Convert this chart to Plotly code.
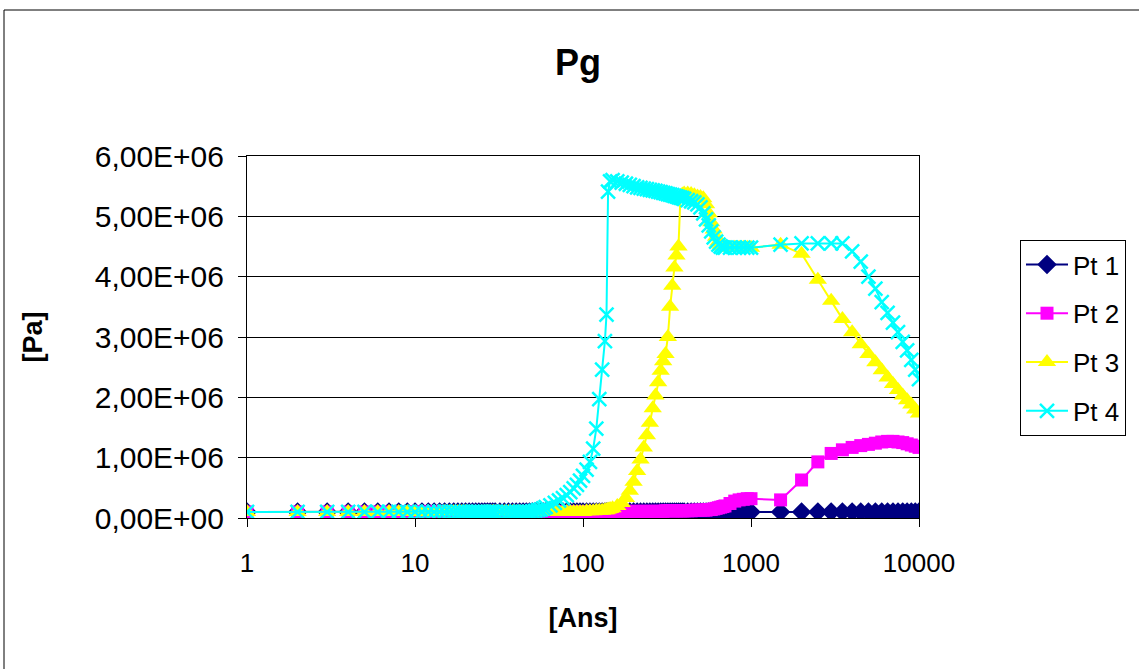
import plotly.graph_objects as go

# Time grid (years)
T = [1, 2, 3, 4, 5, 6, 7, 8, 9, 10,
     11, 12, 13, 14, 15, 16, 17, 18, 19, 20,
     21, 22, 23, 24, 25, 26, 27, 28, 29, 30,
     32, 34, 36, 38, 40, 42, 44, 46, 48, 50,
     52, 54, 56, 58, 60,
     64, 68, 72, 76, 80, 84, 88, 92, 96, 100,
     105, 110, 115, 120, 125, 130, 135,
     138, 141, 145, 150,
     160, 170, 180, 190, 200, 210, 220, 230, 240, 250,
     260, 270, 280, 290, 300, 310, 320, 330, 340, 350,
     360, 370, 380, 390, 400,
     420, 440, 460, 480, 500, 520, 540, 560, 580, 600,
     620, 640, 660, 680, 700,
     750, 800, 850, 900, 950, 1000,
     1500, 2000, 2500, 3000, 3500, 4000, 4500, 5000, 5500, 6000,
     6500, 7000, 7500, 8000, 8500, 9000, 9500, 10000]

PT1 = [1e5, 1e5, 1e5, 1e5, 1e5, 1e5, 1e5, 1e5, 1e5, 1e5,
       1e5, 1e5, 1e5, 1e5, 1e5, 1e5, 1e5, 1e5, 1e5, 1e5,
       1e5, 1e5, 1e5, 1e5, 1e5, 1e5, 1e5, 1e5, 1e5, 1e5,
       1e5, 1e5, 1e5, 1e5, 1e5, 1e5, 1e5, 1e5, 1e5, 1e5,
       1e5, 1e5, 1e5, 1e5, 1e5,
       1e5, 1e5, 1e5, 1e5, 1e5, 1e5, 1e5, 1e5, 1e5, 1e5,
       1e5, 1e5, 1e5, 1e5, 1e5, 1e5, 1e5,
       1e5, 1e5, 1e5, 1e5,
       1e5, 1e5, 1e5, 1e5, 1e5, 1e5, 1e5, 1e5, 1e5, 1e5,
       1e5, 1e5, 1e5, 1e5, 1e5, 1e5, 1e5, 1e5, 1e5, 1e5,
       1e5, 1e5, 1e5, 1e5, 1e5,
       1e5, 1e5, 1e5, 1e5, 1e5, 1e5, 1e5, 1e5, 1e5, 1e5,
       1e5, 1e5, 1e5, 1e5, 1e5,
       1e5, 1e5, 1e5, 1e5, 1e5, 1e5,
       1e5, 1e5, 1e5, 1e5, 1e5, 1e5, 1e5, 1e5, 1e5, 1e5,
       1e5, 1e5, 1e5, 1e5, 1e5, 1e5, 1e5, 1e5]

PT2 = [1e5, 1e5, 1e5, 1e5, 1e5, 1e5, 1e5, 1e5, 1e5, 1e5,
       1e5, 1e5, 1e5, 1e5, 1e5, 1e5, 1e5, 1e5, 1e5, 1e5,
       1e5, 1e5, 1e5, 1e5, 1e5, 1e5, 1e5, 1e5, 1e5, 1e5,
       1e5, 1e5, 1e5, 1e5, 1e5, 1e5, 1e5, 1e5, 1e5, 1e5,
       1e5, 1e5, 1e5, 1e5, 1e5,
       1e5, 1e5, 1e5, 1e5, 1e5, 1e5, 1e5, 1e5, 1e5, 1e5,
       1e5, 1e5, 1e5, 1e5, 1e5, 1e5, 1e5,
       1e5, 1e5, 1e5, 1e5,
       1.1e5, 1.1e5, 1.1e5, 1.1e5, 1.1e5, 1.1e5, 1.1e5, 1.1e5, 1.1e5, 1.1e5,
       1.1e5, 1.1e5, 1.1e5, 1.1e5, 1.1e5, 1.2e5, 1.2e5, 1.2e5, 1.2e5, 1.2e5,
       1.2e5, 1.2e5, 1.2e5, 1.2e5, 1.2e5,
       1.2e5, 1.2e5, 1.3e5, 1.3e5, 1.3e5, 1.3e5, 1.3e5, 1.4e5, 1.4e5, 1.5e5,
       1.6e5, 1.7e5, 1.8e5, 1.9e5, 2.0e5,
       2.4e5, 2.8e5, 3.0e5, 3.1e5, 3.2e5, 3.2e5,
       3.0e5, 6.3e5, 9.3e5, 1.07e6, 1.13e6, 1.17e6, 1.2e6, 1.22e6, 1.24e6, 1.26e6,
       1.27e6, 1.27e6, 1.26e6, 1.25e6, 1.23e6, 1.21e6, 1.19e6, 1.17e6]

PT3 = [1e5, 1e5, 1e5, 1e5, 1e5, 1e5, 1e5, 1e5, 1e5, 1e5,
       1e5, 1e5, 1e5, 1e5, 1e5, 1e5, 1e5, 1e5, 1e5, 1e5,
       1e5, 1e5, 1e5, 1e5, 1e5, 1e5, 1e5, 1e5, 1e5, 1e5,
       1e5, 1e5, 1e5, 1e5, 1e5, 1e5, 1e5, 1e5, 1e5, 1e5,
       1e5, 1e5, 1e5, 1e5, 1e5,
       1e5, 1e5, 1e5, 1e5, 1e5, 1e5, 1e5, 1e5, 1e5, 1e5,
       1.1e5, 1.1e5, 1.1e5, 1.2e5, 1.2e5, 1.2e5, 1.3e5,
       1.3e5, 1.4e5, 1.5e5, 1.6e5,
       2.0e5, 2.5e5, 3.3e5, 4.5e5, 6.0e5, 7.8e5, 9.7e5, 1.17e6, 1.37e6, 1.58e6,
       1.82e6, 2.03e6, 2.25e6, 2.44e6, 2.6e6, 2.72e6, 3.0e6, 3.5e6, 3.85e6, 4.15e6,
       4.35e6, 4.5e6, 5.3e6, 5.36e6, 5.38e6,
       5.38e6, 5.37e6, 5.35e6, 5.33e6, 5.32e6, 5.3e6, 5.2e6, 5.05e6, 4.9e6, 4.78e6,
       4.66e6, 4.58e6, 4.53e6, 4.5e6, 4.5e6,
       4.48e6, 4.48e6, 4.48e6, 4.48e6, 4.48e6, 4.48e6,
       4.53e6, 4.38e6, 3.95e6, 3.6e6, 3.3e6, 3.08e6, 2.88e6, 2.72e6, 2.58e6, 2.45e6,
       2.33e6, 2.22e6, 2.12e6, 2.03e6, 1.95e6, 1.88e6, 1.8e6, 1.73e6]

PT4 = [1e5, 1e5, 1e5, 1e5, 1e5, 1e5, 1e5, 1e5, 1e5, 1e5,
       1e5, 1e5, 1e5, 1e5, 1e5, 1e5, 1e5, 1e5, 1e5, 1e5,
       1e5, 1e5, 1e5, 1e5, 1e5, 1e5, 1e5, 1e5, 1e5, 1e5,
       1e5, 1e5, 1e5, 1e5, 1e5, 1e5, 1e5, 1e5, 1e5, 1.1e5,
       1.2e5, 1.3e5, 1.4e5, 1.6e5, 1.8e5,
       2.1e5, 2.5e5, 2.9e5, 3.3e5, 3.8e5, 4.3e5, 4.9e5, 5.5e5, 6.2e5, 7.0e5,
       8.0e5, 9.3e5, 1.15e6, 1.48e6, 1.97e6, 2.46e6, 2.93e6,
       3.37e6, 5.41e6, 5.58e6, 5.6e6,
       5.58e6, 5.56e6, 5.54e6, 5.52e6, 5.5e6, 5.48e6, 5.47e6, 5.46e6, 5.45e6, 5.44e6,
       5.43e6, 5.42e6, 5.41e6, 5.4e6, 5.39e6, 5.38e6, 5.37e6, 5.36e6, 5.35e6, 5.34e6,
       5.33e6, 5.32e6, 5.31e6, 5.3e6, 5.29e6,
       5.27e6, 5.25e6, 5.23e6, 5.2e6, 5.15e6, 5.05e6, 4.95e6, 4.85e6, 4.75e6, 4.65e6,
       4.58e6, 4.53e6, 4.5e6, 4.48e6, 4.48e6,
       4.48e6, 4.48e6, 4.48e6, 4.48e6, 4.48e6, 4.48e6,
       4.53e6, 4.55e6, 4.55e6, 4.55e6, 4.55e6, 4.42e6, 4.25e6, 4.0e6, 3.8e6, 3.58e6,
       3.4e6, 3.24e6, 3.08e6, 2.92e6, 2.78e6, 2.62e6, 2.46e6, 2.3e6]

SERIES_NAMES = ["Pt 1", "Pt 2", "Pt 3", "Pt 4"]
X_TICKS = [1, 10, 100, 1000, 10000]
X_TICK_TEXT = ["1", "10", "100", "1000", "10000"]
Y_TICKS = [0, 1e6, 2e6, 3e6, 4e6, 5e6, 6e6]
Y_TICK_TEXT = ["0,00E+00", "1,00E+06", "2,00E+06", "3,00E+06",
               "4,00E+06", "5,00E+06", "6,00E+06"]

FONT = "Liberation Sans, Arial, sans-serif"

styles = [
    dict(color="#000080", symbol="diamond", size=15, line=None),
    dict(color="#FF00FF", symbol="square", size=13, line=None),
    dict(color="#FFFF00", symbol="triangle-up", size=16, line=None),
    dict(color="#00FFFF", symbol="x-thin", size=14, line=dict(color="#00FFFF", width=2.5)),
]

fig = go.Figure()
for name, ys, st in zip(SERIES_NAMES, [PT1, PT2, PT3, PT4], styles):
    marker = dict(color=st["color"], symbol=st["symbol"], size=st["size"])
    if st["line"] is not None:
        marker["line"] = st["line"]
    else:
        marker["line"] = dict(width=0)
    fig.add_trace(go.Scatter(
        x=T, y=ys, name=name, mode="lines+markers",
        line=dict(color=st["color"], width=2),
        marker=marker, legendgroup=name,
    ))

L, R, TOP, B = 247, 220, 156, 151
W, H = 1139, 669
pw, ph = W - L - R, H - TOP - B

fig.update_layout(
    width=W, height=H, autosize=False,
    margin=dict(l=L, r=R, t=TOP, b=B, pad=0),
    paper_bgcolor="white", plot_bgcolor="white",
    font=dict(family=FONT, size=26, color="black"),
    title=dict(text="<b>Pg</b>", x=(578 - L) / pw, xref="paper", xanchor="center",
               y=1 - 62 / H, yanchor="middle", font=dict(size=36, family=FONT)),
    showlegend=True,
    legend=dict(x=(1020 - L) / pw, y=(518 - 338) / ph, xanchor="left", yanchor="middle",
                bordercolor="black", borderwidth=1, bgcolor="white",
                font=dict(size=26, family=FONT), traceorder="grouped",
                tracegroupgap=12, itemwidth=42),
    xaxis=dict(type="log", range=[0, 4], tickvals=X_TICKS, ticktext=X_TICK_TEXT,
               showgrid=False, zeroline=False, showline=True, linecolor="black",
               linewidth=1, mirror=True, ticks="outside", ticklen=8, tickcolor="black",
               ticklabelstandoff=14, tickfont=dict(size=26, family=FONT),
               title=dict(text="<b>[Ans]</b>", font=dict(size=27, family=FONT), standoff=30)),
    yaxis=dict(range=[0, 6e6], tickvals=Y_TICKS, ticktext=Y_TICK_TEXT,
               showgrid=True, gridcolor="black", gridwidth=1, zeroline=False,
               showline=True, linecolor="black", linewidth=1, mirror=True,
               ticks="outside", ticklen=8, tickcolor="black",
               ticklabelstandoff=8, tickfont=dict(size=30, family=FONT),
               title=dict(text="<b>[Pa]</b>", font=dict(size=27, family=FONT), standoff=44)),
    shapes=[dict(type="rect", xref="paper", yref="paper",
                 x0=(4 - L) / pw, x1=(1145 - L) / pw,
                 y0=(TOP + ph - 675) / ph, y1=(TOP + ph - 10) / ph,
                 line=dict(color="black", width=1), fillcolor="rgba(0,0,0,0)", layer="below")],
)

fig.write_html("out.html")
